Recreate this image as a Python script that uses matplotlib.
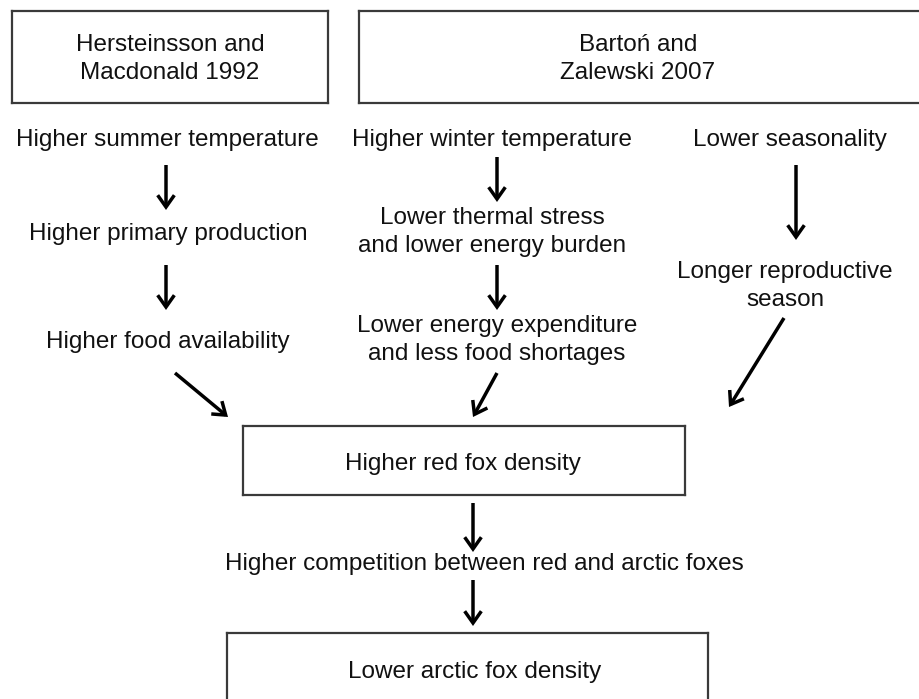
import matplotlib
matplotlib.use("Agg")
import matplotlib.pyplot as plt
from matplotlib.patches import FancyArrowPatch

plt.rcParams['font.family'] = ['Liberation Sans', 'DejaVu Sans']

# ---- content ----
source_labels = ["Hersteinsson and\nMacdonald 1992", "Bartoń and\nZalewski 2007"]
chain_left = ["Higher summer temperature", "Higher primary production", "Higher food availability"]
chain_mid = ["Higher winter temperature", "Lower thermal stress\nand lower energy burden",
             "Lower energy expenditure\nand less food shortages"]
chain_right = ["Lower seasonality", "Longer reproductive\nseason"]
outcome_labels = ["Higher red fox density", "Higher competition between red and arctic foxes",
                  "Lower arctic fox density"]

# ---- layout (pixel coordinates, y downward) ----
W, H = 919, 699
FS = 17.5
TXT = '#111111'
BOX = '#3a3a3a'
DY = 2  # vertical text nudge

fig = plt.figure(figsize=(W / 100, H / 100), dpi=100)
ax = fig.add_axes([0, 0, 1, 1])
ax.set_xlim(0, W)
ax.set_ylim(H, 0)
ax.axis('off')


def box(x0, y0, x1, y1, sides=('l', 'r', 't', 'b')):
    pts = {'l': ((x0, x0), (y0, y1)), 'r': ((x1, x1), (y0, y1)),
           't': ((x0, x1), (y0, y0)), 'b': ((x0, x1), (y1, y1))}
    for s in sides:
        xs, ys = pts[s]
        ax.plot(xs, ys, color=BOX, lw=1.6, solid_capstyle='projecting')


def label(x, y, s):
    ax.text(x, y + DY, s, ha='center', va='center', fontsize=FS, color=TXT,
            linespacing=1.32)


def arrow(p0, p1):
    a = FancyArrowPatch(p0, p1, arrowstyle='->,head_length=0.85,head_width=0.6',
                        mutation_scale=10, lw=2.5, color='black',
                        shrinkA=0, shrinkB=0, joinstyle='miter', capstyle='butt')
    ax.add_patch(a)


# source boxes
box(12, 11, 328, 103)
label(170, 57, source_labels[0])
box(359, 11, 930, 103, sides=('l', 't', 'b'))
label(638, 57, source_labels[1])

# left chain
label(167, 138, chain_left[0])
arrow((166, 165), (166, 210))
label(168, 232, chain_left[1])
arrow((166, 265), (166, 310))
label(168, 340, chain_left[2])
arrow((175, 373), (228, 417))

# middle chain
label(492, 138, chain_mid[0])
arrow((497, 157), (497, 202))
label(492, 230, chain_mid[1])
arrow((497, 265), (497, 310))
label(497, 338, chain_mid[2])
arrow((497, 373), (473, 417))

# right chain
label(790, 138, chain_right[0])
arrow((796, 165), (796, 240))
label(785, 284, chain_right[1])
arrow((784, 318), (729, 407))

# red fox box
box(243, 426, 685, 495)
label(463, 462, outcome_labels[0])
arrow((473, 503), (473, 552))
label(484, 562, outcome_labels[1])
arrow((473, 580), (473, 626))

# arctic fox box
box(227, 633, 708, 720, sides=('l', 'r', 't'))
label(475, 670, outcome_labels[2])

fig.savefig('out.png', dpi=100, facecolor='white')
